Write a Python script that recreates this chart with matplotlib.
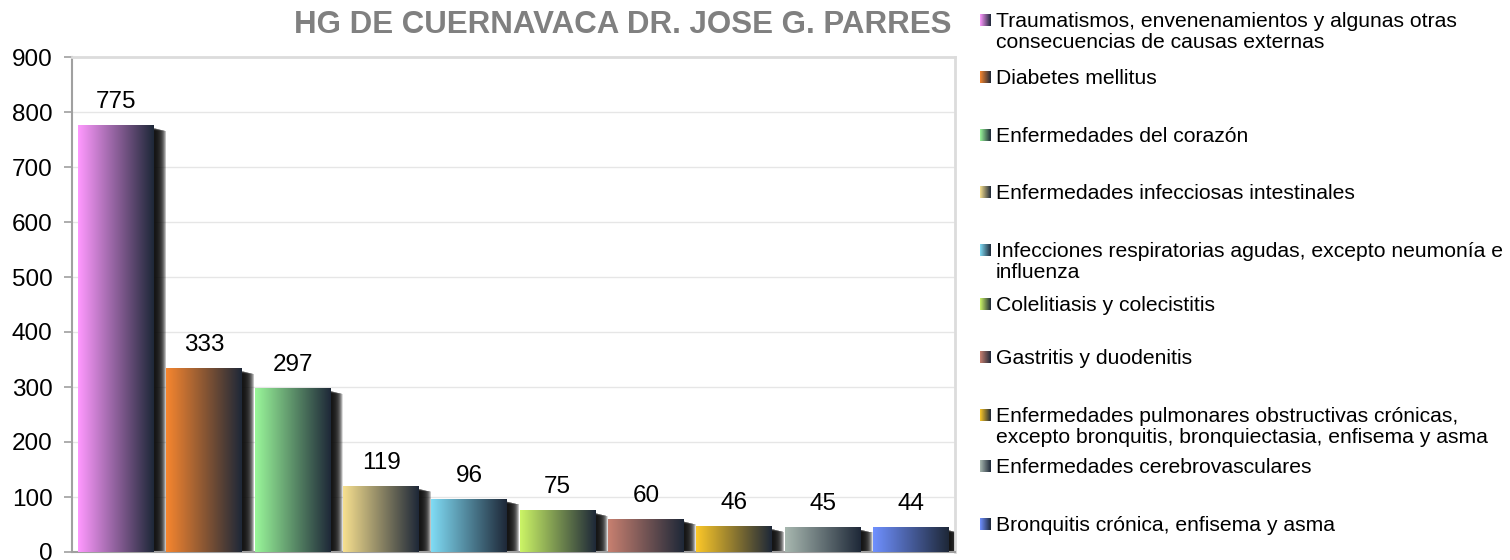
import numpy as np
import matplotlib
matplotlib.use("Agg")
import matplotlib.pyplot as plt
from matplotlib.colors import LinearSegmentedColormap, to_rgb
from matplotlib.patches import Rectangle
from matplotlib.transforms import offset_copy

plt.rcParams['font.family'] = ['Liberation Sans', 'DejaVu Sans']

# ---------------- data ----------------
title = "HG DE CUERNAVACA DR. JOSE G. PARRES"
categories = [
    "Traumatismos, envenenamientos y algunas otras\nconsecuencias de causas externas",
    "Diabetes mellitus",
    "Enfermedades del corazón",
    "Enfermedades infecciosas intestinales",
    "Infecciones respiratorias agudas, excepto neumonía e\ninfluenza",
    "Colelitiasis y colecistitis",
    "Gastritis y duodenitis",
    "Enfermedades pulmonares obstructivas crónicas,\nexcepto bronquitis, bronquiectasia, enfisema y asma",
    "Enfermedades cerebrovasculares",
    "Bronquitis crónica, enfisema y asma",
]
values = [775, 333, 297, 119, 96, 75, 60, 46, 45, 44]
y_ticks = [0, 100, 200, 300, 400, 500, 600, 700, 800, 900]

# ---------------- style ----------------
bar_colors = ["#ff99ff", "#f7862f", "#9af79a", "#f7e08f", "#80dcf5",
              "#ccf566", "#c88070", "#fcc828", "#a8b8b0", "#6f90ff"]
dark = "#1e2838"
W, H, DPI = 1510, 560, 100

fig = plt.figure(figsize=(W / DPI, H / DPI), dpi=DPI)
fig.patch.set_facecolor("white")

ax_l, ax_r, ax_b, ax_t = 72, 955, 552, 57
ax = fig.add_axes([ax_l / W, (H - ax_b) / H, (ax_r - ax_l) / W, (ax_b - ax_t) / H])

x = np.arange(len(values))
bw = 0.86
bars = ax.bar(x, values, width=bw, color="none", edgecolor="none", zorder=3)

for i, (b, c) in enumerate(zip(bars, bar_colors)):
    x0, w, h = b.get_x(), b.get_width(), b.get_height()
    # blurred shadow to the right
    for d in np.arange(1.0, 12.5, 0.5):
        tr = offset_copy(ax.transData, fig=fig, x=d, y=-(2 + 0.25 * d), units="dots")
        ax.add_patch(Rectangle((x0, 0), w, h, facecolor="#111111", alpha=0.14,
                               edgecolor="none", transform=tr, zorder=2))
    # gradient body
    cmap = LinearSegmentedColormap.from_list(f"g{i}", [to_rgb(c), to_rgb(dark)])
    grad = np.linspace(0, 1, 256).reshape(1, -1)
    ax.imshow(grad, cmap=cmap, extent=[x0, x0 + w, 0, h], aspect="auto",
              interpolation="bilinear", zorder=4)
    ax.annotate(str(values[i]), (x[i], h), xytext=(0, 12.5), textcoords="offset points",
                ha="center", va="baseline", fontsize=17.5, color="black", zorder=5)

ax.set_xlim(-0.5, len(values) - 0.5)
ax.set_ylim(0, 900)
ax.set_yticks(y_ticks)
ax.set_xticks([])
ax.tick_params(axis="y", labelsize=17.5, length=6, width=1.2, color="#a0a0a0", pad=8)
ax.yaxis.grid(True, color="#e6e6e6", linewidth=1.0, zorder=0)
ax.set_axisbelow(True)
for s in ["left", "bottom"]:
    ax.spines[s].set_color("#a0a0a0")
    ax.spines[s].set_linewidth(1.5)
for s in ["top", "right"]:
    ax.spines[s].set_color("#dcdcdc")
    ax.spines[s].set_linewidth(2.0)

# ---------------- overlay (title + legend) in pixel coords ----------------
ov = fig.add_axes([0, 0, 1, 1], zorder=10)
ov.set_xlim(0, W)
ov.set_ylim(H, 0)
ov.axis("off")
ov.patch.set_alpha(0)

ov.text(623, 25, title, ha="center", va="center", fontsize=22.5,
        fontweight="bold", color="#808080")

legend_y = [20, 77, 135, 192, 250, 304, 357, 415, 466, 524]
for lbl, c, yy in zip(categories, bar_colors, legend_y):
    cmap = LinearSegmentedColormap.from_list("lg", [to_rgb(c), to_rgb(dark)])
    ov.imshow(np.linspace(0, 1, 64).reshape(1, -1), cmap=cmap,
              extent=[980, 991, yy + 6, yy - 6], aspect="auto",
              interpolation="bilinear")
    ov.text(996, yy - 8, lbl, ha="left", va="top", fontsize=15.2,
            color="black", linespacing=1.15)

ov.set_xlim(0, W)
ov.set_ylim(H, 0)

fig.savefig("out.png", dpi=DPI, facecolor="white")
